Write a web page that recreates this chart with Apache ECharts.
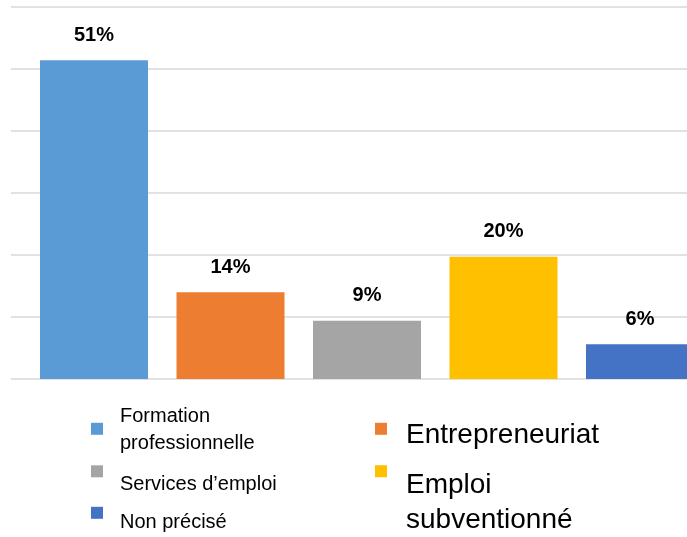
<!DOCTYPE html>
<html>
<head>
<meta charset="utf-8">
<script src="https://cdn.jsdelivr.net/npm/echarts@6/dist/echarts.min.js"></script>
<style>html,body{margin:0;padding:0;background:#fff;}#c{width:687px;height:537px;}</style>
</head>
<body>
<div id="c"></div>
<script>
const categories = ['Formation professionnelle', 'Entrepreneuriat', 'Services d’emploi', 'Emploi subventionné', 'Non précisé'];
const values = [51.4, 14, 9.4, 19.7, 5.6];
const legendLines = [['Formation', 'professionnelle'], ['Entrepreneuriat'], ['Services d’emploi'], ['Emploi', 'subventionné'], ['Non précisé']];
const yTicks = [0, 10, 20, 30, 40, 50, 60];

const colors = ['#5B9BD5', '#ED7D31', '#A5A5A5', '#FFC000', '#4472C4'];
const FONT = 'Liberation Sans';

const series = categories.map((name, i) => ({
  name: name,
  type: 'bar',
  xAxisIndex: 1,
  yAxisIndex: 1,
  stack: 'all',
  barWidth: 108,
  itemStyle: { color: colors[i] },
  label: {
    show: true,
    position: 'top',
    distance: 15,
    fontFamily: FONT,
    fontSize: 20,
    fontWeight: 'bold',
    color: '#000',
    formatter: p => Math.round(p.value) + '%'
  },
  data: categories.map((c, j) => (j === i ? values[i] : '-'))
}));

// legend layouts: [left, iconCenterY, fontSize, lineHeight, textShiftDown, padLeft]
const legendLayout = [
  [91, 428.8, 20, 27, 1.5, 12],
  [375, 428.8, 28, 35, 6, 14],
  [91, 471.3, 20, 27, 13, 12],
  [375, 471.2, 28, 35, 31.5, 14],
  [91, 512.8, 20, 27, 10, 12]
];

const legends = categories.map((name, i) => {
  const [left, cy, fs, lh, shift, pl] = legendLayout[i];
  const lines = legendLines[i];
  const pt = Math.max(0, 2 * shift), pb = Math.max(0, -2 * shift);
  const H = lines.length * lh;
  // bounding top of the legend item relative to icon centre
  let minExt = Math.min(-6, -H / 2);
  lines.forEach((ln, k) => {
    const lc = -H / 2 + lh * (k + 0.5);
    minExt = Math.min(minExt, lc - (fs + pt + pb) / 2);
  });
  const base = { fontFamily: FONT, fontSize: fs, lineHeight: lh, color: '#000' };
  const rich = { t: Object.assign({}, base, { padding: [pt, 0, pb, pl] }) };
  return {
    data: [name],
    left: left,
    top: cy + minExt,
    padding: 0,
    itemWidth: 12,
    itemHeight: 12,
    icon: 'rect',
    selectedMode: false,
    formatter: () => lines.map(ln => '{t|' + ln + '}').join('\n'),
    textStyle: Object.assign({}, base, { rich: rich })
  };
});

const chart = echarts.init(document.getElementById('c'), null, { renderer: 'canvas' });
chart.setOption({
  animation: false,
  backgroundColor: '#fff',
  grid: [
    { left: 11, right: 0, top: 7, bottom: 158, outerBoundsMode: 'none' },
    { left: 25.75, width: 682.5, top: 7, bottom: 158, outerBoundsMode: 'none' }
  ],
  xAxis: [
    { type: 'category', gridIndex: 0, data: categories, show: false },
    { type: 'category', gridIndex: 1, data: categories, axisLine: { show: false }, axisTick: { show: false }, axisLabel: { show: false } }
  ],
  yAxis: [
    { type: 'value', gridIndex: 0, min: yTicks[0], max: yTicks[yTicks.length - 1], interval: 10,
      axisLabel: { show: false }, axisLine: { show: false }, axisTick: { show: false },
      splitLine: { show: true, lineStyle: { color: '#D9D9D9', width: 1.5 } } },
    { type: 'value', gridIndex: 1, min: yTicks[0], max: yTicks[yTicks.length - 1], interval: 10,
      axisLabel: { show: false }, axisLine: { show: false }, axisTick: { show: false },
      splitLine: { show: false } }
  ],
  legend: legends,
  series: series
});
</script>
</body>
</html>
